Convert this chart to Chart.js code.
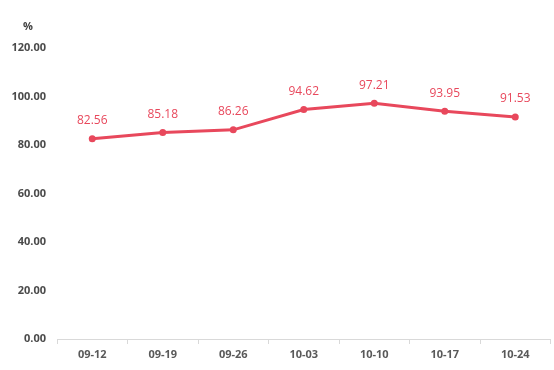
<!DOCTYPE html>
<html>
<head>
<meta charset="utf-8">
<script src="https://cdn.jsdelivr.net/npm/chart.js@4/dist/chart.umd.min.js"></script>
<style>
  body { margin: 0; background: #fff; }
  #wrap { width: 554px; height: 370px; position: relative; }
</style>
</head>
<body>
<div id="wrap"><canvas id="rateChart"></canvas></div>
<script>
const weeks = ['09-12', '09-19', '09-26', '10-03', '10-10', '10-17', '10-24'];
const rates = [82.56, 85.18, 86.26, 94.62, 97.21, 93.95, 91.53];
const yTicks = [0, 20, 40, 60, 80, 100, 120];

const red = '#e8485c';

// value labels above each point, plus the "%" unit
const pointLabels = {
  id: 'pointLabels',
  afterDatasetsDraw(chart) {
    const ctx = chart.ctx;
    const meta = chart.getDatasetMeta(0);
    ctx.save();
    ctx.font = '12px "Open Sans", sans-serif';
    ctx.fillStyle = red;
    ctx.textAlign = 'center';
    ctx.textBaseline = 'middle';
    meta.data.forEach((pt, i) => {
      ctx.fillText(rates[i].toFixed(2), pt.x, pt.y - 18);
    });
    ctx.font = 'bold 11px "Open Sans", sans-serif';
    ctx.fillStyle = '#404040';
    ctx.fillText('%', 28, 27);
    ctx.restore();
  }
};

new Chart(document.getElementById('rateChart'), {
  type: 'line',
  data: {
    labels: weeks,
    datasets: [{
      data: rates,
      borderColor: red,
      backgroundColor: red,
      borderWidth: 3,
      pointRadius: 3.5,
      pointHoverRadius: 3.5,
      pointBorderWidth: 0,
      pointBackgroundColor: red,
      tension: 0
    }]
  },
  options: {
    responsive: true,
    maintainAspectRatio: false,
    animation: false,
    layout: { padding: { top: 48, right: 3, left: 0, bottom: 0 } },
    plugins: {
      legend: { display: false },
      tooltip: { enabled: false }
    },
    scales: {
      x: {
        offset: true,
        grid: {
          offset: true,
          drawOnChartArea: false,
          tickLength: 5,
          color: '#d9d9d9'
        },
        border: { color: '#d9d9d9', width: 1 },
        ticks: {
          color: '#595959',
          font: { family: '"Open Sans", sans-serif', size: 11, weight: 'bold' },
          padding: 4
        },
        afterFit(scale) { scale.height = 31; }
      },
      y: {
        min: 0,
        max: 120,
        afterBuildTicks(scale) { scale.ticks = yTicks.map(v => ({ value: v })); },
        grid: { display: false },
        border: { display: false },
        ticks: {
          color: '#4a4a4a',
          font: { family: '"Open Sans", sans-serif', size: 11, weight: 'bold' },
          padding: 3,
          callback: v => v.toFixed(2)
        },
        afterFit(scale) { scale.width = 57; }
      }
    }
  },
  plugins: [pointLabels]
});
</script>
</body>
</html>
